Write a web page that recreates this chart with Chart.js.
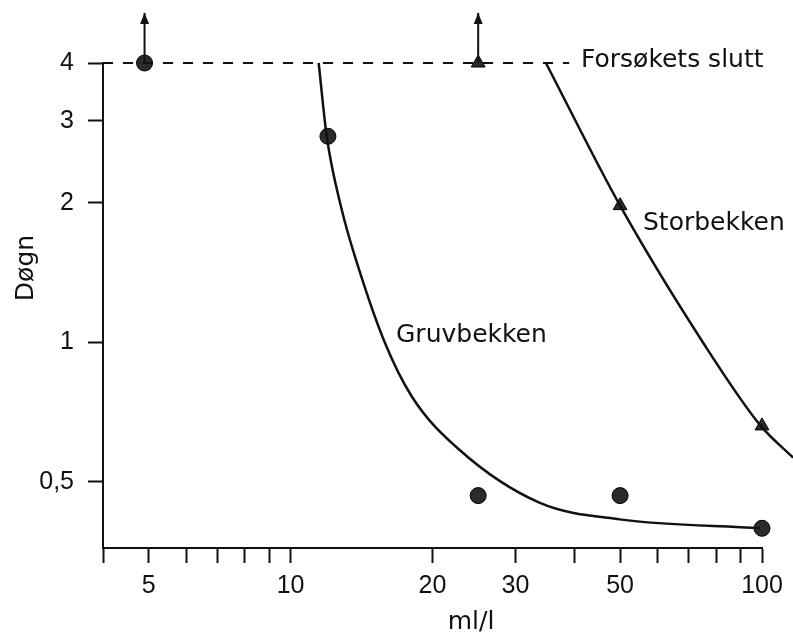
<!DOCTYPE html>
<html>
<head>
<meta charset="utf-8">
<script src="https://cdn.jsdelivr.net/npm/chart.js@4.4.1/dist/chart.umd.min.js"></script>
<style>
    html, body { margin: 0; padding: 0; background: #fff; }
    #wrap { width: 793px; height: 635px; position: relative; }
</style>
</head>
<body>
<div id="wrap"><canvas id="main-chart"></canvas></div>
<script>
// akser
const xTicks = [4, 5, 6, 7, 8, 9, 10, 20, 30, 40, 50, 60, 70, 80, 90, 100];
const xLabeled = [5, 10, 20, 30, 50, 100];
const yTicks = [0.5, 1, 2, 3, 4];
const yTickText = ["0,5", "1", "2", "3", "4"];

// målte punkter (ml/l, døgn)
const gruvX = [4.9, 12, 25, 50, 100];
const gruvY = [4, 2.78, 0.467, 0.467, 0.397];
const storX = [25, 50, 100];
const storY = [4, 1.97, 0.66];

// tilpassede kurver, lest av figuren
const gruvCurveX = [11.47, 11.93, 12.84, 13.75, 15.77, 18.09, 22.77, 33.7, 49.9, 99];
const gruvCurveY = [4, 2.78, 1.93, 1.51, 1.01, 0.763, 0.587, 0.451, 0.415, 0.397];
const storCurveX = [34.8, 50, 74.9, 99.4, 116.4];
const storCurveY = [4, 1.97, 1.0, 0.66, 0.564];

// forsøkets slutt og piler for "mer enn 4 døgn"
const endLimit = 4;
const endLineX = [4, 39];
const arrowX = [4.9, 25];
const arrowTop = 5.13;

const ink = "#111";
const dot = "#2b2b2b";

const pts = (xs, ys) => xs.map((x, i) => ({ x: x, y: ys[i] }));

const arrowSets = arrowX.map((x) => ({
    data: [{ x: x, y: endLimit }, { x: x, y: arrowTop }],
    showLine: true,
    borderColor: ink,
    borderWidth: 2,
    pointRadius: 0,
    clip: false,
}));

// pilspisser: punkter utenfor plottet tegnes ikke av Chart.js
const arrowheads_plugin = {
    id: "pilspisser",
    afterDatasetsDraw(chart) {
        const c = chart.ctx;
        const xs = chart.scales.x;
        const ys = chart.scales.y;
        c.save();
        c.fillStyle = ink;
        arrowX.forEach((x) => {
            const px = xs.getPixelForValue(x);
            const py = ys.getPixelForValue(arrowTop);
            c.beginPath();
            c.moveTo(px, py);
            c.lineTo(px - 4.5, py + 11);
            c.lineTo(px + 4.5, py + 11);
            c.closePath();
            c.fill();
        });
        c.restore();
    },
};

const labels_plugin = {
    id: "tekster",
    afterDraw(chart) {
        const c = chart.ctx;
        c.save();
        c.fillStyle = ink;
        c.font = "25px 'DejaVu Sans'";
        c.textBaseline = "alphabetic";
        c.textAlign = "left";
        c.fillText("Forsøkets slutt", 581, 67);
        c.fillText("Storbekken", 643, 230);
        c.fillText("Gruvbekken", 396, 342);
        c.textAlign = "center";
        c.fillText("ml/l", 471, 629);
        c.translate(33, 268);
        c.rotate(-Math.PI / 2);
        c.fillText("Døgn", 0, 0);
        c.restore();
    },
};

const ctx = document.getElementById("main-chart").getContext("2d");
new Chart(ctx, {
    type: "scatter",
    data: {
        datasets: [
            {
                data: pts(endLineX, endLineX.map(() => endLimit)),
                showLine: true,
                borderColor: ink,
                borderWidth: 2,
                borderDash: [10, 10],
                pointRadius: 0,
                clip: false,
            },
            ...arrowSets,
            {
                data: pts(gruvCurveX, gruvCurveY),
                showLine: true,
                borderColor: ink,
                borderWidth: 2.5,
                cubicInterpolationMode: "monotone",
                pointRadius: 0,
                clip: false,
            },
            {
                data: pts(storCurveX, storCurveY),
                showLine: true,
                borderColor: ink,
                borderWidth: 2.5,
                cubicInterpolationMode: "monotone",
                pointRadius: 0,
                clip: false,
            },
            {
                data: pts(gruvX, gruvY),
                pointStyle: "circle",
                pointRadius: 8,
                backgroundColor: dot,
                borderColor: "#000",
                borderWidth: 1,
                clip: false,
            },
            {
                data: pts(storX, storY),
                pointStyle: "triangle",
                pointRadius: 8,
                backgroundColor: dot,
                borderColor: "#000",
                borderWidth: 1,
                clip: false,
            },
        ],
    },
    options: {
        responsive: true,
        maintainAspectRatio: false,
        animation: false,
        layout: {
            padding: { top: 63, right: 31, left: 0, bottom: 0 },
        },
        plugins: {
            legend: { display: false },
            tooltip: { enabled: false },
        },
        scales: {
            x: {
                type: "logarithmic",
                min: 4,
                max: 100,
                afterBuildTicks: (scale) => {
                    scale.ticks = xTicks.map((v) => ({ value: v }));
                },
                afterFit: (scale) => {
                    scale.height = 87;
                },
                grid: {
                    drawOnChartArea: false,
                    drawTicks: true,
                    tickLength: 15,
                    tickWidth: 2,
                    tickColor: ink,
                },
                border: { display: true, color: ink, width: 2 },
                ticks: {
                    autoSkip: false,
                    maxRotation: 0,
                    padding: 8,
                    color: ink,
                    font: { family: "'Liberation Sans'", size: 25 },
                    callback: (v) => (xLabeled.includes(v) ? String(v) : ""),
                },
            },
            y: {
                type: "logarithmic",
                min: 0.36,
                max: 4,
                afterBuildTicks: (scale) => {
                    scale.ticks = yTicks.map((v) => ({ value: v }));
                },
                afterFit: (scale) => {
                    scale.width = 103;
                },
                grid: {
                    drawOnChartArea: false,
                    drawTicks: true,
                    tickLength: 15,
                    tickWidth: 2,
                    tickColor: ink,
                },
                border: { display: true, color: ink, width: 2 },
                ticks: {
                    padding: 14,
                    color: ink,
                    font: { family: "'Liberation Sans'", size: 25 },
                    callback: (v) => {
                        const i = yTicks.indexOf(v);
                        return i >= 0 ? yTickText[i] : "";
                    },
                },
            },
        },
    },
    plugins: [arrowheads_plugin, labels_plugin],
});
</script>
</body>
</html>
